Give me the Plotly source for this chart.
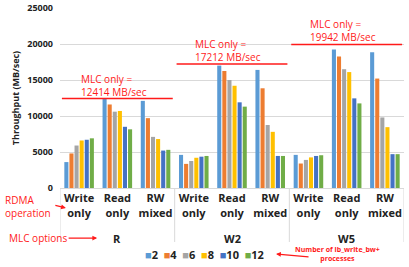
import plotly.graph_objects as go

groups = ["R", "W2", "W5"]
operations = ["Write<br>only", "Read<br>only", "RW<br>mixed"]
process_counts = ["2", "4", "6", "8", "10", "12"]

# throughput (MB/sec) per process count, order: R(W,R,RW), W2(W,R,RW), W5(W,R,RW)
values = {
    "2":  [3600, 12400, 12100, 4600, 17000, 16400, 4600, 19250, 18850],
    "4":  [4800, 11600, 9700, 3350, 16250, 13850, 3400, 18250, 15200],
    "6":  [5900, 10600, 7100, 3750, 15000, 8750, 3900, 16500, 9800],
    "8":  [6600, 10700, 6800, 4200, 14200, 7800, 4250, 16100, 8450],
    "10": [6700, 8500, 5200, 4350, 11900, 4450, 4450, 12450, 4700],
    "12": [6900, 8150, 5300, 4450, 11300, 4450, 4550, 11750, 4700],
}
mlc_only = [12414, 17212, 19942]

colors = {"2": "#5B9BD5", "4": "#ED7D31", "6": "#A5A5A5",
          "8": "#FFC000", "10": "#4472C4", "12": "#70AD47"}

x_pos = list(range(len(groups) * len(operations)))
tick_text = [f"<b>{op.replace('<br>', '</b><br><b>')}</b>" for g in groups for op in operations]

fig = go.Figure()
for p in process_counts:
    fig.add_trace(go.Bar(x=x_pos, y=values[p], name=p,
                         marker_color=colors[p], marker_line_width=0))

RED = "#FF1A1A"
ann = []
shapes = []
for i, v in enumerate(mlc_only):
    center = i * 3 + 1
    shapes.append(dict(type="line", xref="x", yref="y", x0=center - 1.45, x1=center + 1.45,
                       y0=v, y1=v, line=dict(color=RED, width=1.5)))
    ann.append(dict(xref="x", yref="y", x=center - 0.1, y=v, yshift=-2,
                    text=f"MLC only =<br>{v} MB/sec", showarrow=False,
                    xanchor="center", yanchor="bottom", align="left",
                    font=dict(color=RED, size=10, family="Open Sans")))
    ann.append(dict(xref="x", yref="paper", x=center, y=-0.278,
                    text=f"<b>{groups[i]}</b>", showarrow=False, yanchor="middle",
                    font=dict(color="#222222", size=11, family="Open Sans")))

# group dividers below axis
for d in [-0.5, 2.5, 5.5, 8.5]:
    shapes.append(dict(type="line", xref="x", yref="paper", x0=d, x1=d, y0=0, y1=-0.30,
                       line=dict(color="#D9D9D9", width=1)))

# side annotations
ann.append(dict(xref="paper", yref="paper", x=-0.166, y=-0.105, xanchor="left",
                yanchor="middle", align="left", text="RDMA<br>operation", showarrow=False,
                font=dict(color=RED, size=10, family="Open Sans")))
ann.append(dict(xref="paper", yref="paper", x=0.017, y=-0.111, ax=-12, ay=-3,
                text="", showarrow=True, arrowhead=2, arrowsize=0.8, arrowwidth=1.2,
                arrowcolor=RED))
ann.append(dict(xref="paper", yref="paper", x=-0.154, y=-0.278, xanchor="left",
                yanchor="middle", text="MLC options", showarrow=False,
                font=dict(color=RED, size=10, family="Open Sans")))
ann.append(dict(xref="paper", yref="paper", x=0.108, y=-0.278, ax=-30, ay=0,
                text="", showarrow=True, arrowhead=2, arrowsize=0.8, arrowwidth=1.2,
                arrowcolor=RED))
ann.append(dict(xref="paper", yref="paper", x=0.808, y=-0.367, xanchor="center",
                yanchor="middle", text="<b>Number of ib_write_bw+<br>processes</b>",
                showarrow=False, font=dict(color=RED, size=7, family="Open Sans")))
ann.append(dict(xref="paper", yref="paper", x=0.628, y=-0.367, ax=34, ay=3,
                text="", showarrow=True, arrowhead=2, arrowsize=0.8, arrowwidth=1.2,
                arrowcolor=RED))

# compact legend (keys built from the series names and colours)
legend_text = "&nbsp;&nbsp;".join(
    f"<span style='color:{colors[p]}'>■</span><b>{p}</b>" for p in process_counts)
ann.append(dict(xref="paper", yref="paper", x=0.4215, y=-0.367, xanchor="center",
                yanchor="middle", text=legend_text, showarrow=False,
                font=dict(color="#222222", size=11, family="Open Sans")))

fig.update_layout(
    width=409, height=267,
    margin=dict(l=60, r=5, t=8, b=79, autoexpand=False),
    paper_bgcolor="white", plot_bgcolor="white",
    barmode="group", bargap=0.2, bargroupgap=0.2,
    font=dict(family="Open Sans", color="#222222"),
    showlegend=False,
    shapes=shapes, annotations=ann,
)
fig.update_xaxes(range=[-0.5, 8.5], tickvals=x_pos, ticktext=tick_text,
                 tickfont=dict(size=11, color="#222222"), showgrid=False,
                 showline=True, linecolor="#D9D9D9", ticks="", zeroline=False,
                 automargin=False)
fig.update_yaxes(range=[0, 25000], dtick=5000, showgrid=True, gridcolor="#D9D9D9",
                 tickfont=dict(size=9, color="#222222"), tickformat="d",
                 tickprefix="<b>", ticksuffix="</b>",
                 title=dict(text="<b>Throughput (MB/sec)</b>", font=dict(size=9), standoff=6),
                 zeroline=False, ticklabelstandoff=6, automargin=False)

fig.write_html("out.html", config={"displayModeBar": False},
               post_script="document.body.style.margin='0';document.body.style.overflow='hidden';")
